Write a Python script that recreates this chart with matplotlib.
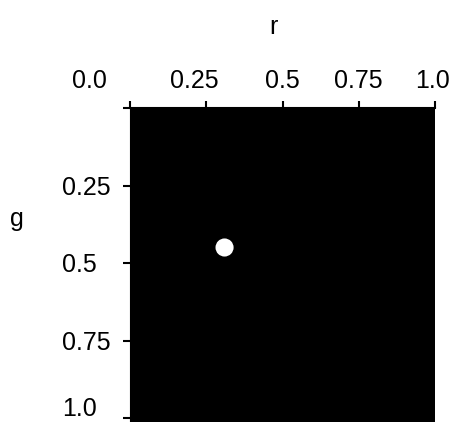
import matplotlib
matplotlib.use('Agg')
from matplotlib import pyplot as plt
from matplotlib.transforms import ScaledTranslation

plt.rcParams['font.family'] = ['Liberation Sans', 'DejaVu Sans']

# single bright spot in the r-g plane
spot_r = [0.31]
spot_g = [0.45]

r_ticks = [0.0, 0.25, 0.5, 0.75, 1.0]
r_labels = ['', '0.25', '0.5', '0.75', '1.0']
g_ticks = [0.0, 0.25, 0.5, 0.75, 1.0]
g_labels = ['', '0.25', '0.5', '0.75', '1.0']

W, H = 451, 422
fig = plt.figure(figsize=(W / 100, H / 100), dpi=100)
ax = fig.add_axes([130 / W, 0, 305 / W, 314 / H])
ax.set_facecolor('black')

ax.scatter(spot_r, spot_g, s=170, c='white', edgecolors='none')

ax.set_xlim(0, 1)
ax.set_ylim(1 + 4 / 310, 0)

ax.xaxis.tick_top()
ax.set_xticks(r_ticks)
ax.set_xticklabels(r_labels, fontsize=18)
ax.tick_params(axis='x', length=5, width=1.5, pad=5.5, direction='out')

ax.set_yticks(g_ticks)
ax.set_yticklabels(g_labels, fontsize=18, ha='left')
ax.tick_params(axis='y', length=5, width=1.5, pad=44, direction='out')

# small nudges so the end labels sit like the original
def nudge(lbl, dx, dy):
    lbl.set_transform(lbl.get_transform() + ScaledTranslation(dx / 100, dy / 100, fig.dpi_scale_trans))

nudge(ax.get_yticklabels()[-1], 0, 12)
nudge(ax.get_xticklabels()[-1], -3, 0)
nudge(ax.get_xticklabels()[1], -12, 0)

for side in ['right', 'bottom']:
    ax.spines[side].set_visible(False)
ax.spines['top'].set_linewidth(1.5)

ax.xaxis.set_label_position('top')
ax.set_xlabel('r', fontsize=18)
ax.xaxis.set_label_coords((273 - 130) / 305, 1 + (108 - 27) / 314)
ax.xaxis.label.set_va('center')

ax.set_ylabel('g', fontsize=18, rotation=0)
ax.yaxis.set_label_coords((17 - 130) / 305, (H - 219) / 314)
ax.yaxis.label.set_va('center')
ax.yaxis.label.set_ha('center')

# shared origin label at the corner
fig.text(89 / W, (H - 88) / H, '0.0', fontsize=18, ha='center', va='baseline')

fig.savefig('out.png', dpi=100)
